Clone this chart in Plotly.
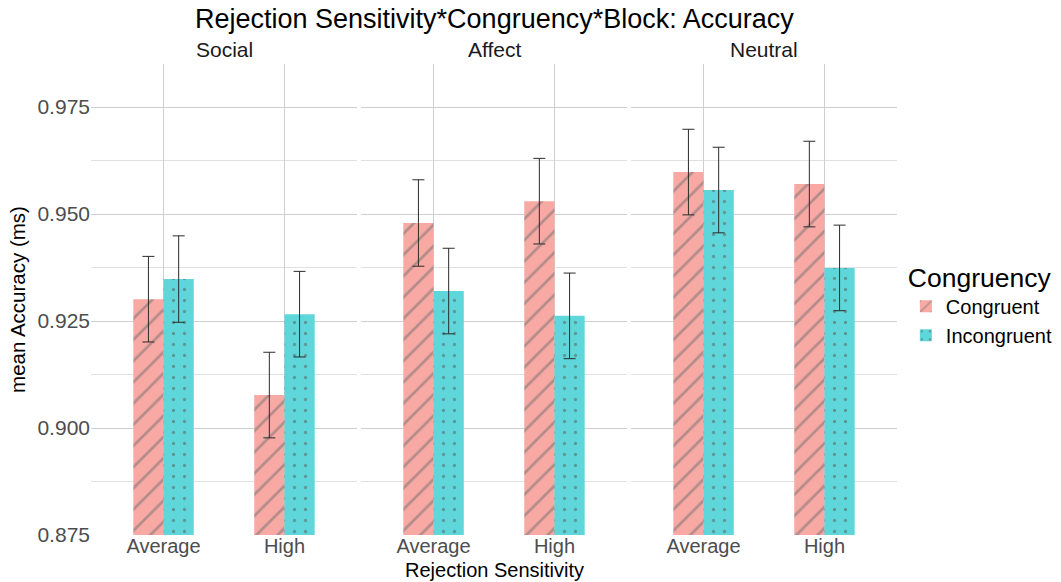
import plotly.graph_objects as go

# Mean accuracy by block (facet), rejection sensitivity (x) and congruency (fill)
blocks = ["Social", "Affect", "Neutral"]
sensitivity = ["Average", "High"]

congruent_acc = [[0.9301, 0.9077], [0.9479, 0.9530], [0.9598, 0.9570]]
incongruent_acc = [[0.9348, 0.9266], [0.9320, 0.9262], [0.9556, 0.9374]]
congruent_se = [[0.0100, 0.0100], [0.0101, 0.0100], [0.0100, 0.0100]]
incongruent_se = [[0.0101, 0.0100], [0.0100, 0.0100], [0.0100, 0.0100]]

y_ticks = [0.875, 0.900, 0.925, 0.950, 0.975]

FONT = "Liberation Sans, Arial, sans-serif"
PINK = "#F8A9A4"
CYAN = "#5FD7DA"
GRID = "#cfcfcf"

W, H = 1061, 582
ML, MR, MT, MB = 91, 164, 64, 47
plot_w = W - ML - MR
panel_w = 266
gap = 4

fig = go.Figure()

for i, block in enumerate(blocks):
    xa = "x" if i == 0 else f"x{i + 1}"
    fig.add_trace(go.Bar(
        x=sensitivity, y=congruent_acc[i], name="Congruent",
        legendgroup="Congruent", showlegend=(i == 0),
        xaxis=xa, yaxis="y", offsetgroup="c",
        marker=dict(color=PINK, line=dict(width=0),
                    pattern=dict(shape="/", fgcolor="#6e6e6e", size=15, solidity=0.18)),
        error_y=dict(type="data", array=congruent_se[i], color="#2b2b2b",
                     thickness=1, width=6),
    ))
    fig.add_trace(go.Bar(
        x=sensitivity, y=incongruent_acc[i], name="Incongruent",
        legendgroup="Incongruent", showlegend=(i == 0),
        xaxis=xa, yaxis="y", offsetgroup="i",
        marker=dict(color=CYAN, line=dict(width=0),
                    pattern=dict(shape=".", fgcolor="#5a5a5a", size=11, solidity=0.07)),
        error_y=dict(type="data", array=incongruent_se[i], color="#2b2b2b",
                     thickness=1, width=6),
    ))

layout = dict(
    width=W, height=H,
    margin=dict(l=ML, r=MR, t=MT, b=MB, autoexpand=False),
    plot_bgcolor="white", paper_bgcolor="white",
    barmode="group", bargap=0.5, bargroupgap=0,
    font=dict(family=FONT, size=20, color="#4d4d4d"),
    showlegend=True,
    legend=dict(
        title=dict(text="Congruency", font=dict(size=26.5, color="black")),
        font=dict(size=20, color="black"),
        x=1.011, xanchor="left", y=0.60, yanchor="top",
        tracegroupgap=0, itemwidth=30, bgcolor="rgba(0,0,0,0)",
    ),
    yaxis=dict(
        range=[0.875, 0.98505], tickvals=y_ticks,
        tickformat=".3f", showgrid=True, gridcolor=GRID, gridwidth=1.2,
        minor=dict(dtick=0.0125, showgrid=True, gridcolor="#e0e0e0", gridwidth=0.8,
                   tick0=0.875),
        zeroline=False, showline=False, ticks="", ticklen=0,
        tickfont=dict(size=21, color="#4d4d4d"),
        title=dict(text="mean Accuracy (ms)", font=dict(size=20.5, color="black"), standoff=6),
        anchor="x",
    ),
)

for i in range(3):
    key = "xaxis" if i == 0 else f"xaxis{i + 1}"
    left = (i * (panel_w + gap)) / plot_w
    right = min(1.0, (i * (panel_w + gap) + panel_w) / plot_w)
    layout[key] = dict(
        domain=[left, right], anchor="y",
        type="category", range=[-0.6, 1.6],
        showgrid=True, gridcolor=GRID, gridwidth=1.2,
        zeroline=False, showline=False, ticks="",
        ticklabelstandoff=-3,
        tickfont=dict(size=20, color="#4d4d4d"),
    )

fig.update_layout(**layout)

# Facet strip labels and shared titles
annotations = []
for i, block in enumerate(blocks):
    cx = (i * (panel_w + gap) + panel_w / 2) / plot_w
    annotations.append(dict(text=block, x=cx, y=1.0, xref="paper", yref="paper",
                            xanchor="center", yanchor="bottom", yshift=1, showarrow=False,
                            font=dict(size=21, color="#1a1a1a")))
annotations.append(dict(text="Rejection Sensitivity*Congruency*Block: Accuracy",
                        x=0.5, y=1.0, xref="paper", yref="paper",
                        xanchor="center", yanchor="bottom", yshift=28, showarrow=False,
                        font=dict(size=27, color="black")))
annotations.append(dict(text="Rejection Sensitivity", x=0.5, y=0, xref="paper", yref="paper",
                        xanchor="center", yanchor="top", yshift=-22, showarrow=False,
                        font=dict(size=20, color="black")))
fig.update_layout(annotations=annotations)

fig.write_html("out.html")
